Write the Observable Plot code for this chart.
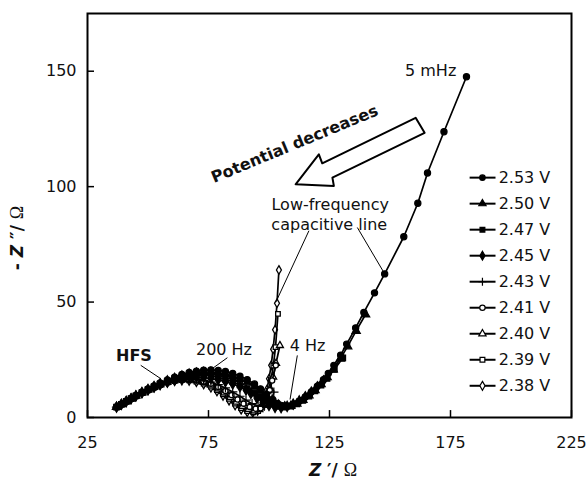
<!DOCTYPE html>
<html><head><meta charset="utf-8">
<script src="https://cdn.jsdelivr.net/npm/d3@7"></script>
<script src="https://cdn.jsdelivr.net/npm/@observablehq/plot@0.6"></script>
<style>
body{margin:0;background:#fff;}
#chart{width:586px;height:486px;}
</style></head><body><div id="chart"></div>
<script>
// ---- Data ----
const xTicks = [25, 75, 125, 175, 225];
const yTicks = [0, 50, 100, 150];
const seriesNames = ["2.53 V","2.50 V","2.47 V","2.45 V","2.43 V","2.41 V","2.40 V","2.39 V","2.38 V"];
const seriesSymbols = ["circle","triangle","square","diamond","plus","circle","triangle","square","diamond"];
const seriesFilled = [true,true,true,true,true,false,false,false,false];

const z253 = [[37,4.6],[39,5.8],[41,7.1],[43,8.3],[45,9.6],[47.5,11],[50,12.4],[52.5,13.7],[55,15],[58,16.3],[61,17.5],[64,18.6],[67,19.5],[70,20.1],[73,20.5],[76,20.6],[79,20.4],[82,19.9],[85,19.1],[88,17.9],[91,16.4],[94,14.5],[96.5,12.4],[99,10],[101.5,7.8],[103.5,6.1],[105.5,5.1],[107.5,4.9],[110,5.6],[112.5,7],[115,8.9],[117.5,11.1],[120,13.6],[122.5,16.4],[124.5,19.1],[126.8,22.6],[129.6,27],[132.1,31.8],[135.8,38.8],[139.2,45.5],[143.6,54],[147.8,62.2],[155.7,78.3],[161.5,92.8],[165.5,105.9],[172.3,123.8],[181.6,147.6]];
const z250 = [[37,4.5],[39,5.7],[41,7],[43,8.2],[45,9.5],[47.5,10.9],[50,12.2],[52.5,13.5],[55,14.7],[58,16],[61,17.1],[64,18.1],[67,18.9],[70,19.4],[73,19.7],[76,19.7],[79,19.4],[82,18.8],[85,17.9],[88,16.7],[91,15.2],[94,13.3],[96.5,11.3],[99,9.1],[101.5,7.1],[104,5.5],[106.5,4.8],[109,5],[111.5,6],[114,7.6],[116.5,9.5],[119,11.8],[121.5,14.4],[124,17.4],[126.5,20.8],[129.5,25.5],[132.5,30.8],[136,37.5],[139.9,44.6]];
const z247 = [[37,4.5],[39,5.7],[41,7],[43,8.2],[45,9.4],[47.5,10.8],[50,12.1],[52.5,13.3],[55,14.5],[58,15.7],[61,16.7],[64,17.5],[67,18],[70,18.3],[73,18.3],[76,18],[79,17.4],[82,16.6],[85,15.5],[88,14.1],[91,12.5],[94,10.7],[96.5,9],[99,7.3],[101.5,5.8],[104,4.8],[106.5,4.5],[109,4.9],[111.5,5.9],[114,7.4],[116.5,9.3],[119,11.5],[121.5,14],[124,16.9],[127,20.8],[130.5,25.8]];
const z245 = [[37,4.5],[39,5.7],[41,6.9],[43,8.1],[45,9.3],[47.5,10.7],[50,12],[52.5,13.2],[55,14.3],[58,15.4],[61,16.3],[64,17],[67,17.4],[70,17.5],[73,17.3],[76,16.9],[79,16.3],[82,15.5],[85,14.5],[88,13.3],[90.5,11.9],[92.5,10.4],[95,8.4],[97.5,6.6],[100,5.2],[102.5,4.4],[105,4.3],[107.5,4.8],[110,5.8],[112.5,7.2],[115,9],[117.5,11],[120,13.3],[122.5,15.9]];
const z243 = [[37,4.5],[39,5.7],[41,6.9],[43,8.1],[45,9.3],[47.5,10.6],[50,11.9],[52.5,13.1],[55,14.2],[58,15.3],[61,16.1],[64,16.6],[67,16.8],[70,16.6],[73,16.1],[76,15.3],[79,14.2],[82,12.8],[85,11.1],[88,9.2],[90.5,7.5],[93,6],[95.5,5],[98,4.8],[100,5.8],[101.2,8],[102,11]];
const z241 = [[37,4.5],[39,5.7],[41,6.9],[43,8.1],[45,9.3],[47.5,10.6],[50,11.9],[52.5,13.1],[55,14.2],[58,15.3],[61,16.1],[64,16.5],[67,16.6],[70,16.3],[73,15.6],[76,14.6],[79,13.2],[82,11.5],[84.5,9.7],[87,7.8],[89.5,6],[92,4.6],[94.5,3.8],[96.5,4],[98,5.5],[99.3,8.2],[100.3,11.8],[101.3,16],[102.8,22.6]];
const z240 = [[37,4.5],[39,5.7],[41,6.9],[43,8.1],[45,9.3],[47.5,10.6],[50,11.9],[52.5,13.1],[55,14.2],[58,15.2],[61,16],[64,16.4],[67,16.4],[70,16],[73,15.2],[76,14],[79,12.4],[81.5,10.7],[84,8.7],[86.5,6.7],[89,4.8],[91.5,3.5],[94,2.9],[96,3.4],[97.8,5.3],[99.2,8.4],[100.5,12.5],[101.7,17.5],[102.9,23.5],[104.5,31.2]];
const z239 = [[37,4.5],[39,5.7],[41,6.9],[43,8.1],[45,9.3],[47.5,10.6],[50,11.8],[52.5,13],[55,14.1],[58,15.1],[61,15.8],[64,16.2],[67,16.1],[70,15.6],[73,14.7],[76,13.4],[78.5,11.9],[81,10.1],[83.5,8.1],[86,6],[88.5,4.1],[91,2.8],[93.5,2.3],[95.5,2.8],[97.2,4.6],[98.6,7.6],[99.8,11.6],[100.8,16.5],[101.8,22.5],[102.7,30.5],[103.7,44.9]];
const z238 = [[37,4.5],[39,5.7],[41,6.9],[43,8.1],[45,9.2],[47.5,10.5],[50,11.7],[52.5,12.9],[55,14],[58,15],[61,15.7],[64,16],[67,15.9],[70,15.3],[73,14.3],[76,12.9],[78.5,11.3],[81,9.4],[83.5,7.3],[86,5.2],[88.5,3.4],[91,2.3],[93.3,2.1],[95.3,2.9],[96.8,4.9],[98,8],[99.1,12],[100,16.8],[100.9,22.6],[101.7,29.6],[102.5,38],[103.3,49.5],[104.1,63.9]];
const seriesPoints = [z253, z250, z247, z245, z243, z241, z240, z239, z238];

// annotations (data units)
const labelTexts = ["5 mHz", "Low-frequency", "capacitive line", "200 Hz", "4 Hz"];
const labelX = [166.8, 125.3, 124.9, 81.4, 115.9];
const labelY = [150, 92.1, 83.5, 29.4, 31.2];
const boldTexts = ["HFS"];
const boldX = [44.2];
const boldY = [26.5];
const pointerX1 = [116.5, 136.5, 47.0, 82.8, 111.7];
const pointerY1 = [80.9, 82.3, 22.6, 25.9, 26.9];
const pointerX2 = [102.8, 147.2, 55.3, 76.6, 108.7];
const pointerY2 = [49.9, 63.3, 16.8, 21.2, 7.8];
const arrowX = [111.0, 120.6, 122.0, 160.6, 164.3, 126.2, 126.8, 111.0];
const arrowY = [101.0, 114.0, 110.1, 129.8, 123.3, 103.9, 100.3, 101.0];

// ---- Build ----
const series = seriesNames.map((name, i) => ({
  name, symbol: seriesSymbols[i], filled: seriesFilled[i],
  rows: seriesPoints[i].map(([x, y]) => ({x, y}))
}));
// legend layout (data units inside the frame)
const legTop = 103.9, legStep = 11.27, legX1 = 182.9, legX2 = 193.6, legXm = 188.2, legXt = 194.9;

const marks = [];
marks.push(Plot.axisX({ticks: xTicks, tickSize: 0, tickPadding: 19, label: null, fontSize: 16}));
marks.push(Plot.axisY({ticks: yTicks, tickSize: 0, tickPadding: 11, label: null, fontSize: 16}));
marks.push(Plot.ruleX(xTicks, {x: d => d, y1: 0, y2: 3, stroke: "black", strokeWidth: 1.5}));
marks.push(Plot.ruleY(yTicks, {y: d => d, x1: 25, x2: 27.9, stroke: "black", strokeWidth: 1.5}));

// series, drawn low potential first
for (let i = series.length - 1; i >= 0; i--) {
  const s = series[i];
  marks.push(Plot.line(s.rows, {x: "x", y: "y", stroke: "black", strokeWidth: 1.7}));
  marks.push(Plot.dot(s.rows, {x: "x", y: "y", symbol: s.symbol, r: s.filled ? 3.1 : 2.6,
    fill: s.filled ? "black" : "white", stroke: "black", strokeWidth: s.filled ? 1.2 : 1.3}));
}
// legend
series.forEach((s, i) => {
  const ly = legTop - i * legStep;
  const row = [{y: ly, name: s.name}];
  marks.push(Plot.link(row, {x1: () => legX1, x2: () => legX2, y1: "y", y2: "y", stroke: "black", strokeWidth: 2}));
  marks.push(Plot.dot(row, {x: () => legXm, y: "y", symbol: s.symbol, r: 2.7,
    fill: s.filled ? "black" : "white", stroke: "black", strokeWidth: 1.2}));
  marks.push(Plot.text(row, {x: () => legXt, y: "y", text: "name", textAnchor: "start", fontSize: 16, fill: "#111"}));
});
// annotations
const pointers = pointerX1.map((d, i) => ({x1: d, y1: pointerY1[i], x2: pointerX2[i], y2: pointerY2[i]}));
marks.push(Plot.link(pointers, {x1: "x1", y1: "y1", x2: "x2", y2: "y2", stroke: "black", strokeWidth: 1}));
const arrow = arrowX.map((x, i) => ({x, y: arrowY[i]}));
marks.push(Plot.line(arrow, {x: "x", y: "y", stroke: "black", strokeWidth: 2, fill: "white", curve: "linear-closed"}));
const labels = labelTexts.map((t, i) => ({t, x: labelX[i], y: labelY[i]}));
marks.push(Plot.text(labels, {x: "x", y: "y", text: "t", fontSize: 16, fill: "#111"}));
const blabels = boldTexts.map((t, i) => ({t, x: boldX[i], y: boldY[i]}));
marks.push(Plot.text(blabels, {x: "x", y: "y", text: "t", fontSize: 16, fontWeight: "bold", fill: "#111"}));
marks.push(Plot.text(["Potential decreases"], {x: () => 110.6, y: () => 118.4, text: d => d, rotate: -22.5, fontSize: 16, fontWeight: "bold", fill: "#111"}));
marks.push(Plot.frame({stroke: "black", strokeWidth: 2}));

const chart = Plot.plot({
  width: 586, height: 486,
  marginLeft: 87, marginRight: 15, marginTop: 13, marginBottom: 69,
  style: {fontFamily: "'DejaVu Sans', sans-serif", fontSize: "16px", color: "#111", background: "white", overflow: "visible"},
  x: {domain: [25, 225]},
  y: {domain: [0, 175]},
  marks
});
document.getElementById("chart").appendChild(chart);

// axis titles with mixed styling
const svg = d3.select(chart);
const xt = svg.append("text").attr("x", 333).attr("y", 476).attr("text-anchor", "middle")
  .attr("fill", "#111").style("font-size", "17px").style("font-family", "'DejaVu Sans', sans-serif");
xt.append("tspan").style("font-weight", "bold").style("font-style", "italic").text("Z");
xt.append("tspan").style("font-weight", "bold").text(" \u2032/ ");
xt.append("tspan").style("font-family", "'Liberation Serif', serif").style("font-size", "18px").text("\u03A9");
const yt = svg.append("text").attr("transform", "translate(23,238) rotate(-90)").attr("text-anchor", "middle")
  .attr("fill", "#111").style("font-size", "17px").style("font-family", "'DejaVu Sans', sans-serif");
yt.append("tspan").style("font-weight", "bold").text("- ");
yt.append("tspan").style("font-weight", "bold").style("font-style", "italic").text("Z");
yt.append("tspan").style("font-weight", "bold").text(" \u2033/ ");
yt.append("tspan").style("font-family", "'Liberation Serif', serif").style("font-size", "18px").text("\u03A9");
</script></body></html>
